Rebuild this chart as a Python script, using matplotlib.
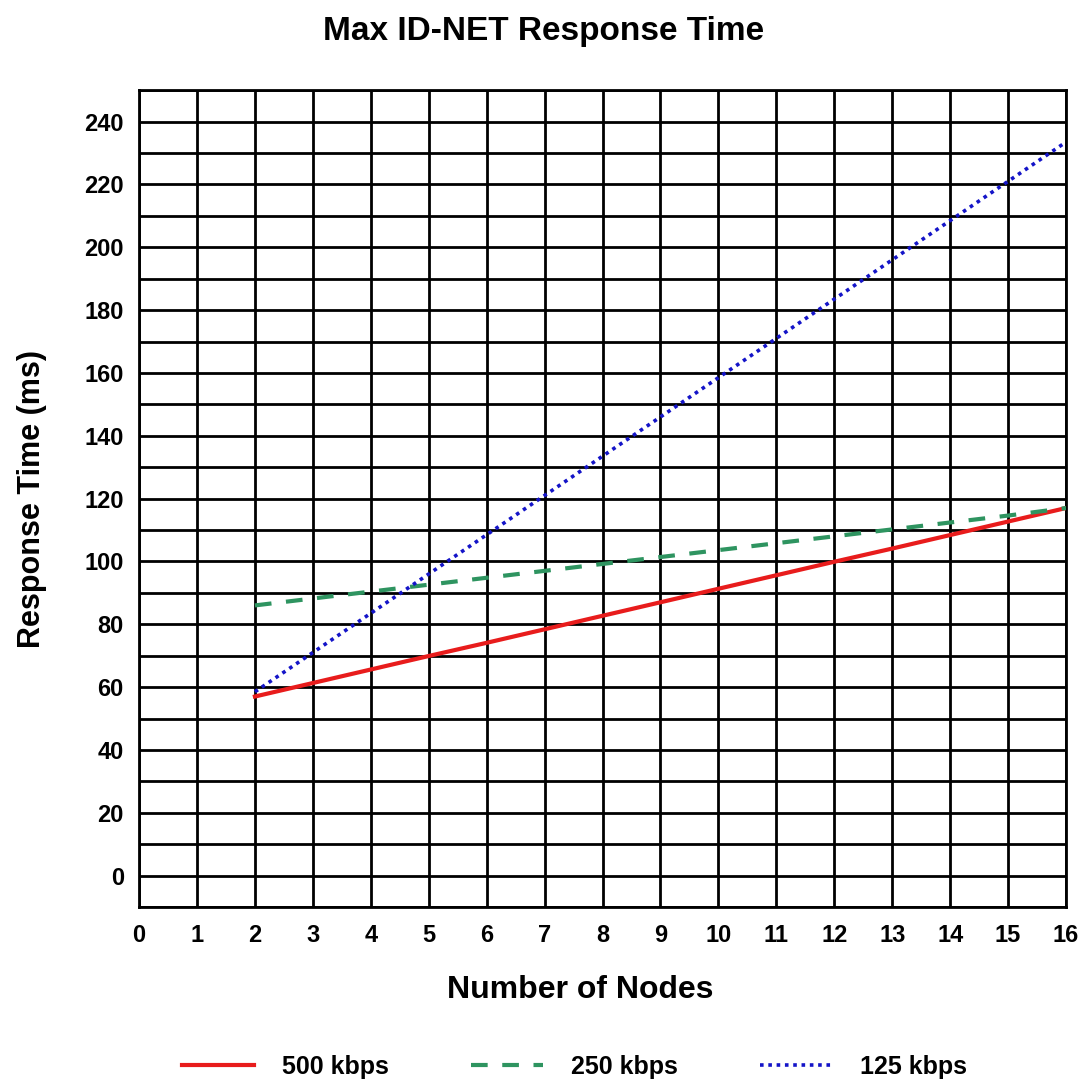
import matplotlib
matplotlib.use("Agg")
import matplotlib.pyplot as plt
import matplotlib.ticker as ticker

# ── data ──
nodes = [2, 3, 4, 5, 6, 7, 8, 9, 10, 11, 12, 13, 14, 15, 16]
rt_500 = [57, 61.3, 65.6, 69.9, 74.1, 78.4, 82.7, 87, 91.3, 95.6, 99.9, 104.1, 108.4, 112.7, 117]
rt_250 = [86, 88.2, 90.4, 92.6, 94.8, 97, 99.2, 101.4, 103.6, 105.8, 108, 110.2, 112.4, 114.6, 117]
rt_125 = [58.5, 71, 83.5, 96, 108.5, 121, 133.5, 146, 158.5, 171, 183.5, 196, 208.5, 221, 233.5]
series_labels = ["500 kbps", "250 kbps", "125 kbps"]

plt.rcParams.update({
    "font.family": ["Liberation Sans", "DejaVu Sans"],
    "font.weight": "bold",
})

fig = plt.figure(figsize=(10.88, 10.79), dpi=100)
ax = fig.add_axes([0.1278, 0.1594, 0.852, 0.757])

ax.plot(nodes, rt_500, color="#e81c1c", linewidth=3, label=series_labels[0], zorder=3)
ax.plot(nodes, rt_250, color="#2e9460", linewidth=3, linestyle=(0, (4, 3.5)),
        label=series_labels[1], zorder=3)
ax.plot(nodes, rt_125, color="#1414c8", linewidth=2.6, linestyle=(0, (1, 1.3)),
        label=series_labels[2], zorder=4)

ax.set_xlim(0, 16)
ax.set_ylim(-10, 250)
ax.xaxis.set_major_locator(ticker.MultipleLocator(1))
ax.yaxis.set_major_locator(ticker.MultipleLocator(20))
ax.yaxis.set_minor_locator(ticker.MultipleLocator(10))
ax.grid(True, which="both", color="black", linewidth=2)
ax.set_axisbelow(True)
for s in ax.spines.values():
    s.set_linewidth(2)
ax.tick_params(which="both", length=0)
ax.tick_params(axis="x", labelsize=17, pad=12)
ax.tick_params(axis="y", labelsize=17, pad=11)
for lbl in ax.get_xticklabels() + ax.get_yticklabels():
    lbl.set_fontweight("bold")

# title is centred on the figure, not the axes
fig.text(0.5, 0.971, "Max ID-NET Response Time", ha="center", va="center",
         fontsize=24, fontweight="bold")
ax.set_xlabel("Number of Nodes", fontsize=23, fontweight="bold", labelpad=17)
ax.xaxis.set_label_coords(0.476, -0.083)
ax.set_ylabel("Response Time (ms)", fontsize=22, fontweight="bold", labelpad=27)

leg = fig.legend(loc="lower center", ncol=3, frameon=False, fontsize=18,
                 bbox_to_anchor=(0.528, -0.021), handlelength=2.9, columnspacing=3.3,
                 handletextpad=1.1)
for t in leg.get_texts():
    t.set_fontweight("bold")

fig.savefig("out.png", dpi=100)
